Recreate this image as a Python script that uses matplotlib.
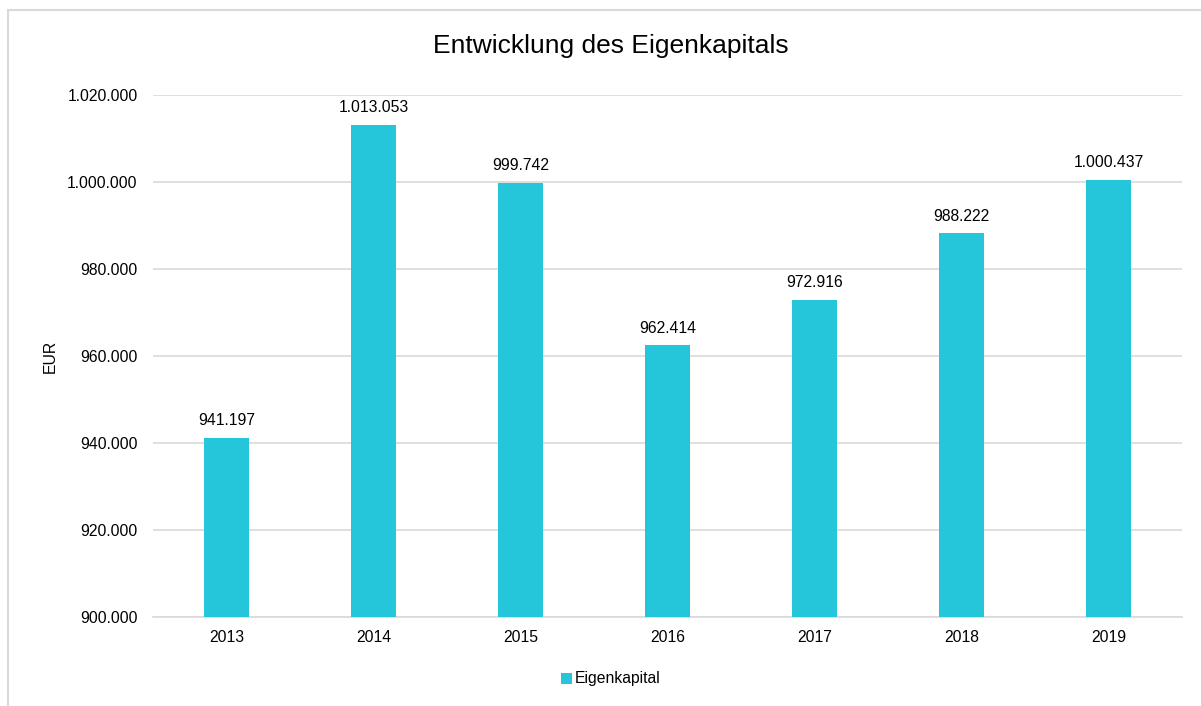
import matplotlib.pyplot as plt
import matplotlib.patches as mpatches
from matplotlib.ticker import FuncFormatter

years = ['2013', '2014', '2015', '2016', '2017', '2018', '2019']
eigenkapital = [941197, 1013053, 999742, 962414, 972916, 988222, 1000437]
y_ticks = [900000, 920000, 940000, 960000, 980000, 1000000, 1020000]

bar_color = '#26C6DA'
grid_color = '#D9D9D9'


def de_format(v, pos=None):
    # thousands separated with a dot, german style
    return f'{int(round(v)):,}'.replace(',', '.')


plt.rcParams['font.family'] = ['Liberation Sans', 'DejaVu Sans']

fig = plt.figure(figsize=(12.01, 7.06), dpi=100)
W, H = 1201, 706

# outer chart border (light gray, runs off right/bottom edge)
fig.patches.append(mpatches.Rectangle((8 / W, -0.05), 1.1, 1 - 10 / H + 0.05,
                                      transform=fig.transFigure, fill=False,
                                      edgecolor=grid_color, linewidth=1.5))

ax = fig.add_axes([153 / W, 1 - 617 / H, (1182 - 153) / W, (617 - 95) / H])

x = range(len(years))
ax.bar(x, eigenkapital, width=0.31, color=bar_color, zorder=3, label='Eigenkapital')

for xi, v in zip(x, eigenkapital):
    ax.annotate(de_format(v), (xi, v), xytext=(0, 7), textcoords='offset points',
                ha='center', va='bottom', fontsize=11.3, color='black')

ax.set_xlim(-0.5, len(years) - 0.5)
ax.set_ylim(900000, 1020000)
ax.set_yticks(y_ticks)
ax.yaxis.set_major_formatter(FuncFormatter(de_format))
ax.set_xticks(list(x))
ax.set_xticklabels(years)
ax.tick_params(axis='both', length=0, labelsize=11.3, labelcolor='black')
ax.tick_params(axis='y', pad=11)
ax.tick_params(axis='x', pad=9)

ax.grid(axis='y', color=grid_color, linewidth=1.2, zorder=0)
for s in ['top', 'right', 'left']:
    ax.spines[s].set_visible(False)
ax.spines['bottom'].set_color(grid_color)
ax.spines['bottom'].set_linewidth(1.2)

fig.text(50 / W, 1 - 356 / H, 'EUR', rotation=90, ha='center', va='center', fontsize=11.3)
fig.text(611 / W, 1 - 46 / H, 'Entwicklung des Eigenkapitals', ha='center', va='center',
         fontsize=19, color='black')

fig.legend(loc='center', bbox_to_anchor=(611 / W, 1 - 679 / H), frameon=False,
           fontsize=11.3, handlelength=0.7, handleheight=0.7, handletextpad=0.2)

fig.savefig('out.png', dpi=100, facecolor='white')
